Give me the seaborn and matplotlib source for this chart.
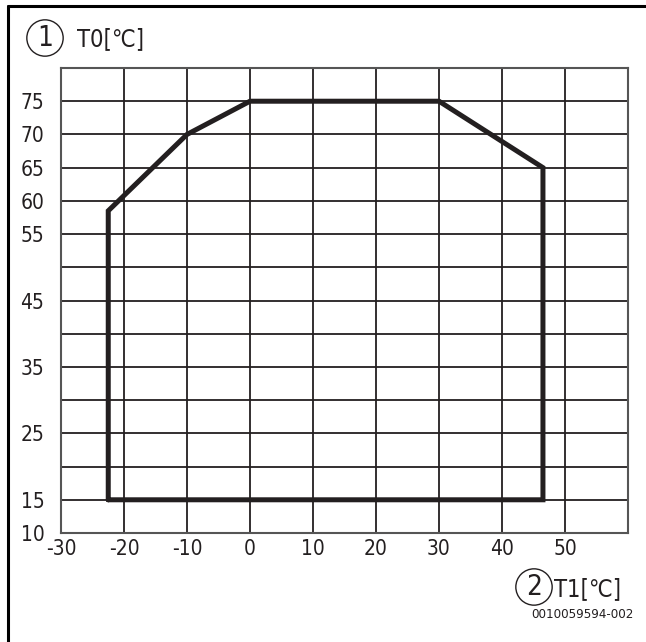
"""Operating envelope chart: T0 vs T1 in degrees C."""

import matplotlib

matplotlib.use("Agg")
import matplotlib.pyplot as plt
from matplotlib.lines import Line2D
import seaborn as sns

# envelope corners, walked clockwise from the bottom-left
t1_values = [-22.5, -22.5, -10, 0, 30, 46.5, 46.5, -22.5]
t0_values = [15, 58.5, 70, 75, 75, 65, 15, 15]

x_ticks = [-30, -20, -10, 0, 10, 20, 30, 40, 50]
y_grid = [10, 15, 20, 25, 30, 35, 40, 45, 50, 55, 60, 65, 70, 75, 80]
y_labels = ["10", "15", "", "25", "", "35", "", "45", "", "55", "60", "65", "70", "75", ""]

sns.set_style("white")
plt.rcParams["font.family"] = ["DejaVu Sans"]
plt.rcParams["font.stretch"] = "condensed"

ink = "#231f20"
fig = plt.figure(figsize=(6.46, 6.42), dpi=100)
ax = fig.add_axes([61 / 646, 1 - 533 / 642, 567 / 646, 465 / 642])

sns.lineplot(
	x=t1_values, y=t0_values, sort=False, estimator=None, ax=ax,
	color=ink, linewidth=3.6, solid_joinstyle="miter", zorder=3,
)

ax.set_xlim(-30, 60)
ax.set_ylim(10, 80)
ax.set_xticks(x_ticks + [60])
ax.set_xticklabels([str(v) for v in x_ticks] + [""])
ax.set_yticks(y_grid)
ax.set_yticklabels(y_labels)
ax.grid(True, color=ink, linewidth=1.3)
ax.tick_params(length=0, labelsize=15, colors=ink)
ax.tick_params(axis="y", pad=12)
ax.tick_params(axis="x", pad=4)
for spine in ax.spines.values():
	spine.set_color("#555555")
	spine.set_linewidth(1.5)

# page frame: only top and left edges
fig.add_artist(Line2D([8 / 646, 1], [1 - 6 / 642, 1 - 6 / 642], color="black", lw=2.2, transform=fig.transFigure))
fig.add_artist(Line2D([8 / 646, 8 / 646], [0, 1 - 6 / 642], color="black", lw=2.2, transform=fig.transFigure))

circle = dict(boxstyle="circle,pad=0.15", fc="none", ec=ink, lw=1.0)
fig.text(45 / 646, 1 - 38 / 642, "1", fontsize=20, ha="center", va="center", color=ink, bbox=circle)
fig.text(77 / 646, 1 - 39 / 642, "T0[℃]", fontsize=17, ha="left", va="center", color=ink)
fig.text(534 / 646, 1 - 587 / 642, "2", fontsize=20, ha="center", va="center", color=ink, bbox=circle)
fig.text(554 / 646, 1 - 589 / 642, "T1[℃]", fontsize=17, ha="left", va="center", color=ink)
fig.text(634 / 646, 1 - 614 / 642, "0010059594-002", fontsize=9.5, ha="right", va="center", color=ink)

fig.savefig("out.png", dpi=100)
